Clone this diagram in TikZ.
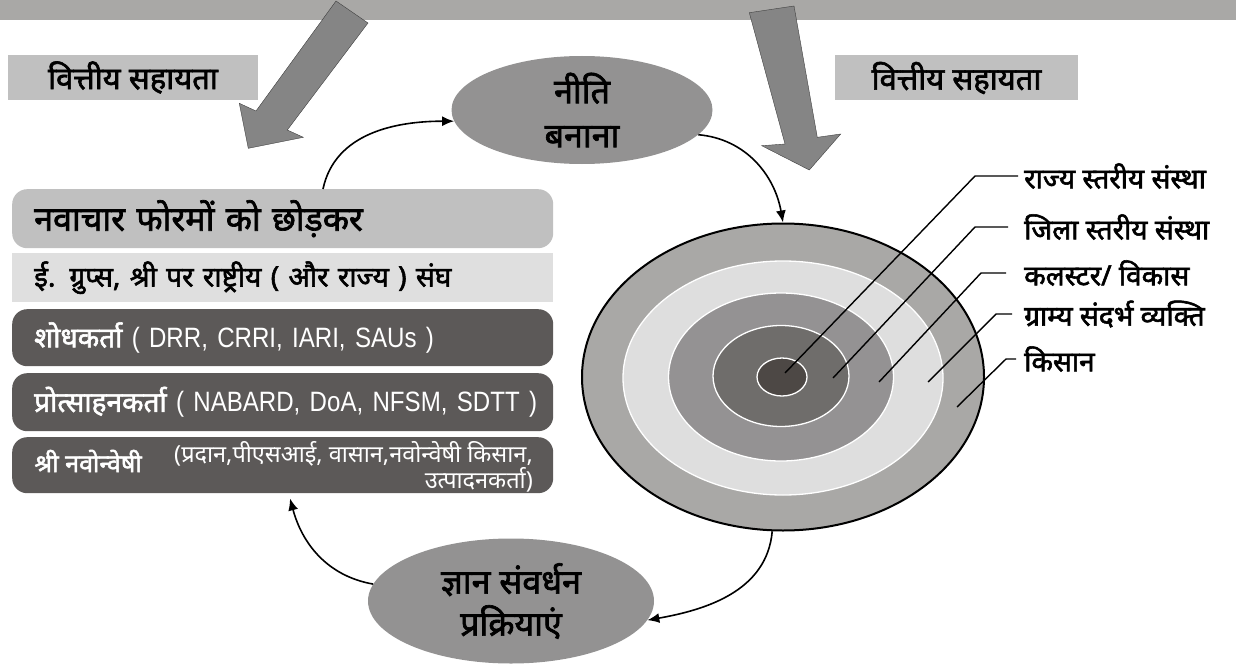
\documentclass[tikz,border=0pt]{standalone}
\usepackage{fontspec}
\setmainfont{Noto Sans}[Script=Devanagari]
\newfontfamily\hb{Noto Sans}[Script=Devanagari, FakeBold=2]
\newfontfamily\lat{Liberation Sans}[FakeStretch=0.86]
\usetikzlibrary{shapes.geometric,arrows.meta,positioning}
\definecolor{bandc}{HTML}{A9A8A6}
\definecolor{fatc}{HTML}{858585}
\definecolor{finc}{HTML}{C0C0C0}
\definecolor{ovalc}{HTML}{939292}
\definecolor{barb}{HTML}{DFDFDF}
\definecolor{bard}{HTML}{5C5958}
\definecolor{ringa}{HTML}{A9A8A6}
\definecolor{ringb}{HTML}{DEDEDE}
\definecolor{ringc}{HTML}{949293}
\definecolor{ringd}{HTML}{6F6D6B}
\definecolor{ringe}{HTML}{4D4845}
\newcommand{\fs}[2]{\fontsize{#1}{#2}\selectfont}

\begin{document}
\begin{tikzpicture}[x=1pt, y=-1pt,
  fin/.style={fill=finc, minimum height=45pt, inner sep=0pt, font=\hb\fs{31}{36}},
  oval/.style={ellipse, fill=ovalc, inner sep=0pt, align=center},
  bar/.style={anchor=north west, minimum height=#1, text width=497pt, inner xsep=22pt, inner ysep=0pt, align=left},
  dark/.style={fill=bard, rounded corners=15pt, text=white},
  ring/.style={ellipse, inner sep=0pt, draw=white, line width=1.3pt},
  lab/.style={anchor=west, inner sep=3pt, font=\hb\fs{28}{32}},
  lead/.style={line width=1.4pt},
  con/.style={line width=1.6pt, -{Latex[length=12pt, width=10pt]}},
  fat/.style={fill=fatc, draw=black!75, line width=0.4pt}]

  \useasboundingbox (0,0) rectangle (1236,666);
  \fill[bandc] (0,0) rectangle (1236,20);

  \node[fin, minimum width=250pt] (finL) at (133,77.5) {वित्तीय सहायता};
  \node[fin, minimum width=243pt] (finR) at (956.5,78) {वित्तीय सहायता};

  \filldraw[fat] (248.3,148.3) -- (303.3,137.3) -- (287.3,130) -- (368,23) -- (336,1) -- (256,111) -- (239.3,103.3) -- cycle;
  \filldraw[fat] (809.3,170) -- (840.7,134) -- (817.3,137.3) -- (794,6) -- (749.3,12.7) -- (785,144) -- (761.7,145.7) -- cycle;

  \node[oval, minimum width=261pt, minimum height=108pt, font=\hb\fs{34}{40}] (pol) at (582,110) {नीति\\[4pt]बनाना};
  \node[oval, minimum width=286pt, minimum height=125pt, font=\hb\fs{34}{39}] (kno) at (511,601) {ज्ञान संवर्धन\\[3pt]प्रक्रियाएं};

  \node[bar=59pt, fill=finc, rounded corners=15pt, font=\hb\fs{34}{40}] (b1) at (12,189) {नवाचार फोरमों को छोड़कर};
  \node[bar=49pt, fill=barb, font=\hb\fs{28}{32}] (b2) at (12,253) {ई. ग्रुप्स, श्री पर राष्ट्रीय ( और राज्य ) संघ};
  \node[bar=57pt, dark, font=\hb\fs{28}{32}] (b3) at (12,309) {\mbox{शोधकर्ता {\lat\fs{28}{30}( DRR, CRRI, IARI, SAUs )}}};
  \node[bar=58pt, dark, font=\hb\fs{28}{32}] (b4) at (12,373) {\mbox{प्रोत्साहनकर्ता {\lat\fs{28}{30}( NABARD, DoA, NFSM, SDTT )}}};
  \node[bar=56pt, dark] (b5) at (12,437) {};
  \node[anchor=west, text=white, font=\hb\fs{25}{30}] (b5a) at (31,461) {श्री नवोन्वेषी};
  \node[anchor=north east, align=right, text=white, inner sep=0pt, font=\fs{23.5}{20}] (b5b) at (533,441) {(प्रदान,पीएसआई, वासान,नवोन्वेषी किसान,\\उत्पादनकर्ता)};

  \node[ring, fill=ringa, draw=black, line width=2pt, minimum width=402pt, minimum height=307pt] (ra) at (783,377) {};
  \node[ring, fill=ringb, minimum width=320pt, minimum height=234pt] (rb) at (783,378) {};
  \node[ring, fill=ringc, minimum width=225pt, minimum height=168pt] (rc) at (781,377) {};
  \node[ring, fill=ringd, minimum width=136pt, minimum height=101pt] (rd) at (781,376) {};
  \node[ring, fill=ringe, minimum width=50pt, minimum height=38pt] (re) at (782,377) {};

  \coordinate (k1) at (785,373);
  \coordinate (k2) at (833,378);
  \coordinate (k3) at (879,382);
  \coordinate (k4) at (928,382);
  \coordinate (k5) at (957,407);
  \node[lab] (t1) at (1021,176) {राज्य स्तरीय संस्था};
  \node[lab] (t2) at (1021,227) {जिला स्तरीय संस्था};
  \node[lab] (t3) at (1021,273) {कलस्टर/ विकास};
  \node[lab] (t4) at (1021,314) {ग्राम्य संदर्भ व्यक्ति};
  \node[lab] (t5) at (1021,359) {किसान};
  \draw[lead] (k1) -- ([xshift=-46pt]t1.west) -- ([xshift=-3pt]t1.west);
  \draw[lead] (k2) -- ([xshift=-46pt]t2.west) -- ([xshift=-13pt]t2.west);
  \draw[lead] (k3) -- ([xshift=-40pt]t3.west) -- ([xshift=-15pt]t3.west);
  \draw[lead] (k4) -- ([xshift=-25pt]t4.west) -- ([xshift=-9pt]t4.west);
  \draw[lead] (k5) -- ([xshift=-15pt]t5.west) -- ([xshift=-5pt]t5.west);

  \draw[con] ([xshift=311pt]b1.north west) to[out=78, in=180] (pol.185);
  \draw[con] (pol.348) to[out=-5, in=100] (ra.north);
  \draw[con] (ra.266) to[out=-95, in=10] (kno.352);
  \draw[con] (kno.173) to[out=170, in=-75] ([xshift=278pt, yshift=-5pt]b5.south west);
\end{tikzpicture}
\end{document}
